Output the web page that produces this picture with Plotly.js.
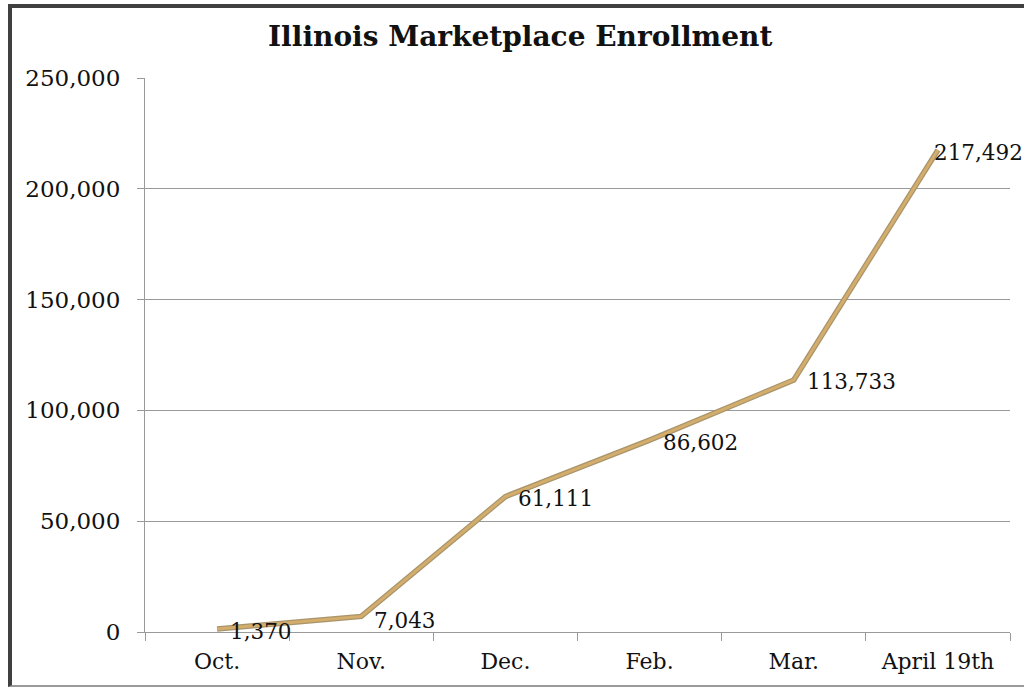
<!DOCTYPE html>
<html>
<head>
<meta charset="utf-8">
<script src="https://cdn.plot.ly/plotly-3.0.1.min.js"></script>
<style>
  html, body { margin: 0; padding: 0; background: #fff; }
  #frame { position: absolute; left: 8px; top: 4px; width: 1030px; height: 683px;
           border-left: 4px solid #404040; border-top: 4px solid #404040; border-bottom: 2px solid #9a9a9a; box-sizing: border-box; }
  #chart { position: absolute; left: 0; top: 0; width: 1024px; height: 687px; }
</style>
</head>
<body>
<div id="frame"></div>
<div id="chart"></div>
<script>
const categories = ["Oct.", "Nov.", "Dec.", "Feb.", "Mar.", "April 19th"];
const enrollment = [1370, 7043, 61111, 86602, 113733, 217492];
const pointLabels = ["1,370", "7,043", "61,111", "86,602", "113,733", "217,492"];
const yTickVals = [0, 50000, 100000, 150000, 200000, 250000];
const yTickText = ["0", "50,000", "100,000", "150,000", "200,000", "250,000"];

const serif = "DejaVu Serif, Liberation Serif, serif";

const traces = [
  { x: categories, y: enrollment, type: "scatter", mode: "lines",
    line: { color: "#a8956c", width: 5.5 }, hoverinfo: "skip", showlegend: false },
  { x: categories, y: enrollment, type: "scatter", mode: "lines",
    line: { color: "#d4ad6c", width: 3 }, showlegend: false }
];

const annotations = categories.map((c, i) => ({
  x: c, y: enrollment[i], xref: "x", yref: "y",
  text: pointLabels[i], showarrow: false,
  xanchor: "left", yanchor: "middle",
  xshift: i === categories.length - 1 ? -6 : 11,
  yshift: i === 0 ? -3 : (i === 1 ? -4 : -2),
  font: { family: serif, size: 21.5, color: "#111" }
}));

const layout = {
  width: 1024, height: 687,
  paper_bgcolor: "rgba(0,0,0,0)", plot_bgcolor: "rgba(0,0,0,0)",
  margin: { l: 145, r: 14, t: 78, b: 55 },
  title: { text: "<b>Illinois Marketplace Enrollment</b>", x: 0.508, xref: "container",
           y: 0.948, yref: "container", xanchor: "center", yanchor: "middle",
           font: { family: serif, size: 28, color: "#111" } },
  xaxis: { type: "category", range: [-0.5, 5.5], tickson: "boundaries",
           ticks: "outside", ticklen: 8, tickcolor: "#999", showgrid: false,
           showline: true, linecolor: "#999", linewidth: 1, zeroline: false,
           ticklabelstandoff: 10,
           tickfont: { family: serif, size: 22, color: "#111" } },
  yaxis: { range: [0, 250000], tickvals: yTickVals, ticktext: yTickText,
           ticks: "outside", ticklen: 7, tickcolor: "#999",
           showgrid: true, gridcolor: "#9a9a9a", gridwidth: 1,
           showline: true, linecolor: "#999", zeroline: false,
           ticklabelstandoff: 12,
           tickfont: { family: serif, size: 23, color: "#111" } },
  annotations: annotations,
  showlegend: false
};

Plotly.newPlot("chart", traces, layout, { displayModeBar: false, staticPlot: true });
</script>
</body>
</html>
